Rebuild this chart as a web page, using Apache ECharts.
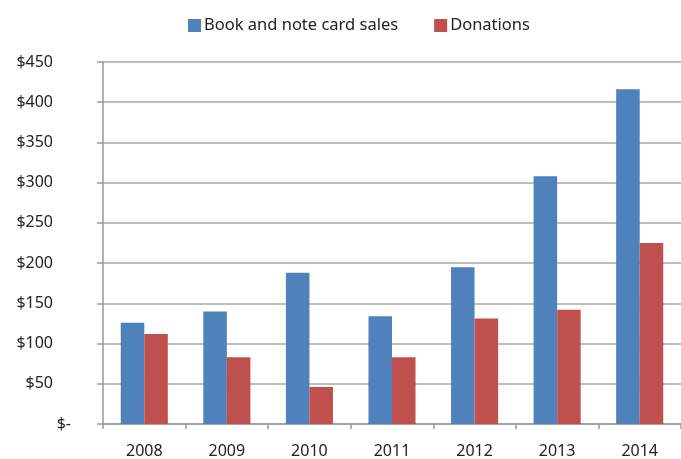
<!DOCTYPE html>
<html>
<head>
<meta charset="utf-8">
<script src="https://cdn.jsdelivr.net/npm/echarts@6/dist/echarts.min.js"></script>
<style>html,body{margin:0;padding:0;background:#fff;}#c{width:681px;height:459px;}</style>
</head>
<body>
<div id="c"></div>
<script>
const categories = ['2008', '2009', '2010', '2011', '2012', '2013', '2014'];
const bookSales = [126, 140, 188, 134, 195, 308, 416];
const donations = [112, 83, 46, 83, 131, 142, 225];
const seriesNames = ['Book and note card sales', 'Donations'];
const yTicks = { min: 0, max: 450, interval: 50 };

const chart = echarts.init(document.getElementById('c'));
const font = '"Noto Sans", sans-serif';
chart.setOption({
  animation: false,
  backgroundColor: '#fff',
  legend: {
    top: 12,
    left: 183,
    itemWidth: 13,
    itemHeight: 13,
    itemGap: 36,
    icon: 'rect',
    textStyle: { fontFamily: font, fontSize: 16.5, color: '#222', padding: [0, 0, 0, -2] },
    data: seriesNames
  },
  grid: { left: 103, top: 62, width: 584, height: 362, containLabel: false },
  xAxis: {
    type: 'category',
    data: categories,
    axisLine: { lineStyle: { color: '#999', width: 1.5 } },
    axisTick: { show: true, length: 5, lineStyle: { color: '#999', width: 1.5 } },
    axisLabel: { fontFamily: font, fontSize: 16, color: '#222', margin: 19 }
  },
  yAxis: {
    type: 'value',
    min: yTicks.min, max: yTicks.max, interval: yTicks.interval,
    axisLine: { show: true, lineStyle: { color: '#999', width: 1.5 } },
    axisTick: { show: true, length: 6, lineStyle: { color: '#999', width: 1.5 } },
    splitLine: { lineStyle: { color: '#a8a8a8', width: 1.5 } },
    axisLabel: {
      fontFamily: font, fontSize: 16, color: '#222', margin: 32,
      formatter: v => v === 0 ? '{z|$-}' : '{a|$' + v + '}',
      rich: {
        a: { fontFamily: font, fontSize: 16, color: '#222', padding: [0, 18, 0, 0] },
        z: { fontFamily: font, fontSize: 16, color: '#222', padding: [0, 0, 0, 0] }
      }
    }
  },
  series: [
    { name: seriesNames[0], type: 'bar', data: bookSales, barGap: '0%', barCategoryGap: '43%', itemStyle: { color: '#4F81BD' } },
    { name: seriesNames[1], type: 'bar', data: donations, barGap: '0%', barCategoryGap: '43%', itemStyle: { color: '#C0504D' } }
  ]
});
</script>
</body>
</html>
